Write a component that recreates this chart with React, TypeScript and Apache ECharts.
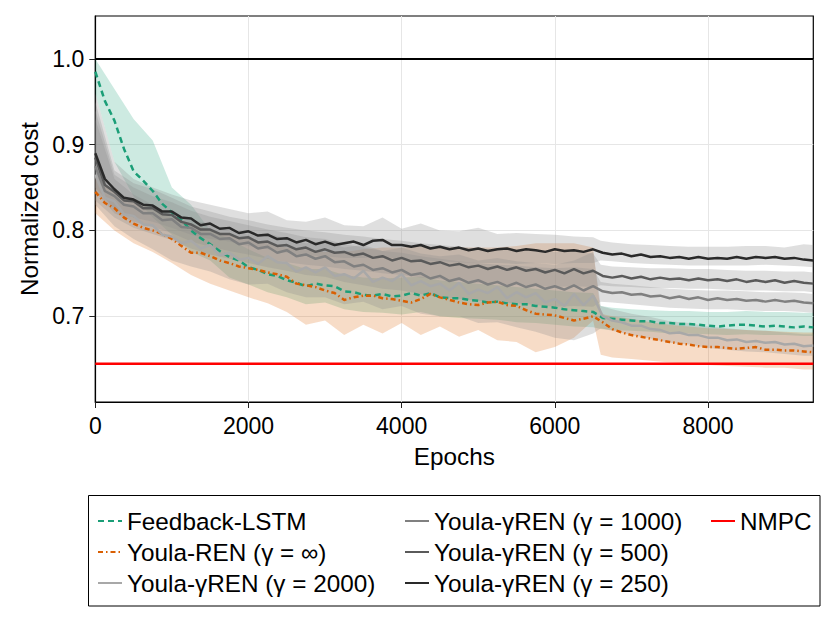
import React, { useEffect, useRef } from 'react';
import * as echarts from 'echarts';

const EPOCHS = [
  0, 125, 250, 375, 500, 625, 750, 875, 1000, 1125, 1250, 1375, 1500, 1625, 1750, 1875, 2000, 2125, 2250, 2375,
  2500, 2625, 2750, 2875, 3000, 3125, 3250, 3375, 3500, 3625, 3750, 3875, 4000, 4125, 4250, 4375, 4500, 4625, 4750, 4875,
  5000, 5125, 5250, 5375, 5500, 5625, 5750, 5875, 6000, 6125, 6250, 6375, 6500, 6625, 6750, 6875, 7000, 7125, 7250, 7375,
  7500, 7625, 7750, 7875, 8000, 8125, 8250, 8375, 8500, 8625, 8750, 8875, 9000, 9125, 9250, 9375,
];

const BAND_EPOCHS = [
  0, 250, 500, 750, 1000, 1250, 1500, 1750, 2000, 2250, 2500, 2750, 3000, 3250, 3500, 3750, 4000, 4250, 4500, 4750,
  5000, 5250, 5500, 5750, 6000, 6250, 6500, 6600, 6750, 7000, 7250, 7500, 7750, 8000, 8250, 8500, 8750, 9000, 9250, 9375,
];

const LSTM_MEAN = [
  0.985, 0.951, 0.928, 0.895, 0.869, 0.858, 0.846, 0.831, 0.821, 0.812,
  0.800, 0.791, 0.784, 0.776, 0.769, 0.765, 0.757, 0.754, 0.749, 0.747,
  0.742, 0.739, 0.735, 0.738, 0.736, 0.735, 0.729, 0.728, 0.725, 0.724,
  0.726, 0.723, 0.724, 0.727, 0.724, 0.727, 0.722, 0.721, 0.721, 0.719,
  0.718, 0.716, 0.717, 0.715, 0.714, 0.714, 0.712, 0.711, 0.710, 0.708,
  0.707, 0.706, 0.705, 0.698, 0.697, 0.696, 0.695, 0.694, 0.694, 0.692,
  0.692, 0.691, 0.691, 0.690, 0.689, 0.688, 0.689, 0.690, 0.690, 0.689,
  0.688, 0.689, 0.688, 0.687, 0.688, 0.687,
];
const LSTM_UP = [
  1.0, 0.965, 0.93, 0.905, 0.85, 0.83, 0.8, 0.79, 0.778, 0.768,
  0.762, 0.755, 0.755, 0.748, 0.745, 0.744, 0.745, 0.746, 0.742, 0.74,
  0.738, 0.736, 0.734, 0.732, 0.73, 0.728, 0.727, 0.712, 0.71, 0.708,
  0.707, 0.706, 0.706, 0.705, 0.705, 0.706, 0.705, 0.705, 0.704, 0.704,
];
const LSTM_LO = [
  0.96, 0.88, 0.84, 0.815, 0.795, 0.775, 0.765, 0.745, 0.737, 0.728,
  0.722, 0.714, 0.716, 0.708, 0.705, 0.704, 0.702, 0.705, 0.7, 0.698,
  0.697, 0.696, 0.693, 0.692, 0.69, 0.688, 0.687, 0.685, 0.684, 0.683,
  0.682, 0.68, 0.68, 0.679, 0.678, 0.679, 0.678, 0.678, 0.677, 0.677,
];

const REN_MEAN = [
  0.845, 0.832, 0.826, 0.815, 0.808, 0.803, 0.800, 0.796, 0.790, 0.782,
  0.774, 0.774, 0.770, 0.765, 0.762, 0.758, 0.756, 0.754, 0.751, 0.749,
  0.746, 0.738, 0.736, 0.734, 0.730, 0.727, 0.719, 0.722, 0.724, 0.724,
  0.721, 0.720, 0.718, 0.716, 0.720, 0.726, 0.722, 0.719, 0.716, 0.714,
  0.713, 0.716, 0.717, 0.713, 0.712, 0.707, 0.703, 0.702, 0.701, 0.698,
  0.695, 0.697, 0.700, 0.693, 0.685, 0.681, 0.678, 0.676, 0.674, 0.672,
  0.670, 0.668, 0.667, 0.665, 0.664, 0.664, 0.663, 0.662, 0.663, 0.664,
  0.661, 0.661, 0.660, 0.660, 0.659, 0.658,
];
const REN_UP = [
  0.865, 0.845, 0.835, 0.825, 0.815, 0.808, 0.8, 0.795, 0.79, 0.785,
  0.78, 0.778, 0.775, 0.775, 0.778, 0.78, 0.78, 0.782, 0.78, 0.78,
  0.78, 0.78, 0.782, 0.785, 0.785, 0.785, 0.78, 0.703, 0.7, 0.697,
  0.693, 0.69, 0.688, 0.686, 0.685, 0.684, 0.683, 0.682, 0.681, 0.681,
];
const REN_LO = [
  0.82, 0.8, 0.785, 0.775, 0.762, 0.748, 0.738, 0.73, 0.722, 0.715,
  0.705, 0.69, 0.695, 0.678, 0.69, 0.68, 0.692, 0.678, 0.688, 0.676,
  0.684, 0.672, 0.67, 0.658, 0.664, 0.675, 0.695, 0.655, 0.652, 0.65,
  0.648, 0.646, 0.645, 0.643, 0.642, 0.641, 0.64, 0.64, 0.638, 0.638,
];

const G2000_MEAN = [
  0.865, 0.838, 0.834, 0.819, 0.817, 0.807, 0.806, 0.795, 0.793, 0.785,
  0.788, 0.779, 0.783, 0.771, 0.774, 0.766, 0.768, 0.761, 0.770, 0.763,
  0.762, 0.752, 0.757, 0.751, 0.757, 0.747, 0.749, 0.744, 0.753, 0.740,
  0.745, 0.741, 0.749, 0.736, 0.741, 0.735, 0.738, 0.730, 0.739, 0.726,
  0.731, 0.727, 0.734, 0.721, 0.728, 0.722, 0.727, 0.716, 0.720, 0.712,
  0.726, 0.713, 0.724, 0.700, 0.695, 0.693, 0.689, 0.689, 0.685, 0.684,
  0.680, 0.681, 0.678, 0.678, 0.675, 0.675, 0.672, 0.673, 0.670, 0.671,
  0.669, 0.670, 0.667, 0.668, 0.665, 0.666,
];
const G2000_UP = [
  0.93, 0.86, 0.842, 0.83, 0.818, 0.812, 0.808, 0.8, 0.795, 0.797,
  0.79, 0.785, 0.786, 0.78, 0.783, 0.776, 0.78, 0.773, 0.77, 0.772,
  0.765, 0.768, 0.764, 0.762, 0.76, 0.765, 0.775, 0.712, 0.708, 0.703,
  0.699, 0.694, 0.692, 0.688, 0.686, 0.684, 0.683, 0.681, 0.679, 0.679,
];
const G2000_LO = [
  0.83, 0.805, 0.79, 0.778, 0.765, 0.758, 0.752, 0.743, 0.737, 0.738,
  0.728, 0.722, 0.722, 0.714, 0.717, 0.708, 0.712, 0.703, 0.7, 0.7,
  0.692, 0.693, 0.687, 0.682, 0.675, 0.672, 0.68, 0.686, 0.683, 0.678,
  0.674, 0.669, 0.667, 0.663, 0.661, 0.659, 0.658, 0.656, 0.654, 0.654,
];

const G1000_MEAN = [
  0.875, 0.846, 0.840, 0.830, 0.828, 0.820, 0.820, 0.812, 0.813, 0.804,
  0.803, 0.796, 0.796, 0.790, 0.791, 0.784, 0.786, 0.779, 0.781, 0.774,
  0.777, 0.770, 0.772, 0.767, 0.770, 0.763, 0.764, 0.758, 0.760, 0.754,
  0.756, 0.751, 0.754, 0.748, 0.750, 0.744, 0.747, 0.741, 0.744, 0.739,
  0.742, 0.737, 0.740, 0.735, 0.739, 0.734, 0.737, 0.732, 0.735, 0.731,
  0.736, 0.730, 0.735, 0.729, 0.727, 0.728, 0.725, 0.726, 0.723, 0.724,
  0.721, 0.723, 0.720, 0.722, 0.719, 0.721, 0.719, 0.720, 0.718, 0.719,
  0.717, 0.719, 0.717, 0.718, 0.716, 0.715,
];
const G1000_UP = [
  0.94, 0.865, 0.85, 0.84, 0.833, 0.823, 0.816, 0.811, 0.806, 0.801,
  0.797, 0.792, 0.79, 0.784, 0.78, 0.776, 0.774, 0.77, 0.767, 0.764,
  0.762, 0.76, 0.759, 0.757, 0.756, 0.757, 0.755, 0.74, 0.738, 0.736,
  0.734, 0.732, 0.731, 0.73, 0.73, 0.729, 0.728, 0.728, 0.727, 0.726,
];
const G1000_LO = [
  0.835, 0.815, 0.803, 0.796, 0.789, 0.779, 0.772, 0.767, 0.762, 0.757,
  0.753, 0.748, 0.746, 0.74, 0.736, 0.732, 0.73, 0.726, 0.723, 0.72,
  0.718, 0.716, 0.715, 0.713, 0.711, 0.712, 0.711, 0.717, 0.716, 0.714,
  0.712, 0.71, 0.709, 0.708, 0.708, 0.707, 0.706, 0.706, 0.705, 0.704,
];

const G500_MEAN = [
  0.885, 0.853, 0.845, 0.835, 0.834, 0.826, 0.826, 0.819, 0.818, 0.810,
  0.807, 0.801, 0.801, 0.796, 0.796, 0.791, 0.792, 0.786, 0.787, 0.782,
  0.783, 0.778, 0.780, 0.775, 0.778, 0.774, 0.775, 0.771, 0.773, 0.768,
  0.770, 0.765, 0.768, 0.764, 0.765, 0.761, 0.763, 0.759, 0.761, 0.757,
  0.759, 0.755, 0.758, 0.754, 0.757, 0.753, 0.755, 0.751, 0.754, 0.750,
  0.755, 0.750, 0.753, 0.747, 0.745, 0.747, 0.744, 0.746, 0.743, 0.745,
  0.743, 0.744, 0.742, 0.744, 0.742, 0.743, 0.741, 0.743, 0.740, 0.742,
  0.740, 0.742, 0.739, 0.741, 0.739, 0.738,
];
const G500_UP = [
  0.95, 0.87, 0.855, 0.848, 0.838, 0.828, 0.822, 0.816, 0.812, 0.807,
  0.803, 0.8, 0.798, 0.795, 0.793, 0.79, 0.788, 0.785, 0.783, 0.781,
  0.779, 0.778, 0.777, 0.776, 0.775, 0.776, 0.773, 0.76, 0.758, 0.757,
  0.756, 0.756, 0.755, 0.755, 0.754, 0.753, 0.753, 0.752, 0.752, 0.751,
];
const G500_LO = [
  0.845, 0.82, 0.81, 0.804, 0.797, 0.787, 0.781, 0.776, 0.772, 0.767,
  0.763, 0.76, 0.758, 0.755, 0.753, 0.75, 0.748, 0.745, 0.743, 0.741,
  0.739, 0.738, 0.737, 0.735, 0.734, 0.735, 0.734, 0.736, 0.735, 0.734,
  0.733, 0.733, 0.732, 0.732, 0.731, 0.73, 0.73, 0.729, 0.729, 0.728,
];

const G250_MEAN = [
  0.890, 0.860, 0.848, 0.838, 0.836, 0.830, 0.829, 0.822, 0.822, 0.815,
  0.814, 0.806, 0.808, 0.802, 0.803, 0.797, 0.799, 0.794, 0.795, 0.790,
  0.791, 0.786, 0.789, 0.784, 0.787, 0.783, 0.785, 0.787, 0.783, 0.788,
  0.789, 0.783, 0.783, 0.781, 0.783, 0.779, 0.781, 0.778, 0.780, 0.777,
  0.779, 0.776, 0.778, 0.779, 0.776, 0.778, 0.777, 0.775, 0.778, 0.776,
  0.777, 0.775, 0.778, 0.774, 0.772, 0.773, 0.770, 0.772, 0.769, 0.770,
  0.768, 0.769, 0.767, 0.769, 0.767, 0.768, 0.767, 0.769, 0.767, 0.769,
  0.768, 0.769, 0.767, 0.768, 0.766, 0.765,
];
const G250_UP = [
  0.96, 0.88, 0.86, 0.85, 0.842, 0.835, 0.83, 0.825, 0.82, 0.822,
  0.812, 0.81, 0.815, 0.806, 0.805, 0.815, 0.802, 0.808, 0.8, 0.799,
  0.803, 0.796, 0.797, 0.796, 0.795, 0.793, 0.792, 0.788, 0.786, 0.784,
  0.783, 0.782, 0.781, 0.781, 0.781, 0.782, 0.782, 0.78, 0.784, 0.783,
];
const G250_LO = [
  0.85, 0.825, 0.815, 0.81, 0.803, 0.795, 0.79, 0.787, 0.782, 0.778,
  0.774, 0.771, 0.77, 0.768, 0.768, 0.77, 0.766, 0.765, 0.764, 0.763,
  0.762, 0.762, 0.761, 0.762, 0.761, 0.762, 0.762, 0.765, 0.764, 0.762,
  0.761, 0.76, 0.759, 0.759, 0.759, 0.759, 0.76, 0.759, 0.758, 0.757,
];

const REFERENCE_LEVEL = [1.0, 1.0];
const NMPC_LEVEL = [0.6447, 0.6447];
const LEVEL_EPOCHS = [0, 9375];

const X_TICKS = [0, 2000, 4000, 6000, 8000];
const Y_TICKS = [0.7, 0.8, 0.9, 1.0];

const NAMES = {
  lstm: 'Feedback-LSTM',
  ren: 'Youla-REN (γ = ∞)',
  g2000: 'Youla-γREN (γ = 2000)',
  g1000: 'Youla-γREN (γ = 1000)',
  g500: 'Youla-γREN (γ = 500)',
  g250: 'Youla-γREN (γ = 250)',
  nmpc: 'NMPC',
};

const FONT = '"Liberation Sans", Arimo, Arial, Helvetica, sans-serif';
const TICK_SIZE = 23;
const TEXT_SIZE = 24.3;

function pairs(xs: number[], ys: number[]) {
  return xs.map((x, i) => [x, ys[i]]);
}

function bandSeries(id: string, up: number[], lo: number[], color: string) {
  return {
    type: 'custom',
    name: id,
    silent: true,
    z: 1,
    data: [[BAND_EPOCHS[0], lo[0]]],
    renderItem: (_params: any, api: any) => {
      const top = BAND_EPOCHS.map((x, i) => api.coord([x, up[i]]));
      const bottom = BAND_EPOCHS.map((x, i) => api.coord([x, lo[i]])).reverse();
      return {
        type: 'polygon',
        shape: { points: top.concat(bottom) },
        style: { fill: color, stroke: 'none' },
      };
    },
  };
}

function lineSeries(name: string, xs: number[], ys: number[], color: string, width: number, type: any) {
  return {
    type: 'line',
    name,
    data: pairs(xs, ys),
    symbol: 'none',
    silent: true,
    itemStyle: { color },
    lineStyle: { color, width, type, cap: 'butt' },
    z: 3,
  };
}

const GRAY_BAND = 'rgba(140,140,140,0.28)';

export default function App() {
  const ref = useRef<HTMLDivElement>(null);
  useEffect(() => {
    if (!ref.current) return;
    const chart = echarts.init(ref.current, undefined, { renderer: 'svg' });
    const legendCommon = {
      orient: 'vertical',
      padding: 0,
      itemWidth: 24,
      itemHeight: 14,
      itemGap: 7,
      selectedMode: false,
      itemStyle: { opacity: 0 },
      textStyle: { fontSize: TEXT_SIZE, fontFamily: FONT, color: '#000', lineHeight: 24 },
    };
    chart.setOption({
      animation: false,
      backgroundColor: '#fff',
      textStyle: { fontFamily: FONT },
      grid: {
        left: 95.3,
        right: 16.7,
        top: 16,
        bottom: 221,
        show: true,
        borderColor: '#000',
        borderWidth: 1.2,
        backgroundColor: 'transparent',
      },
      legend: [
        { ...legendCommon, left: 97, top: 509, data: [NAMES.lstm, NAMES.ren, NAMES.g2000] },
        { ...legendCommon, left: 404, top: 509, data: [NAMES.g1000, NAMES.g500, NAMES.g250] },
        { ...legendCommon, left: 710, top: 509, data: [NAMES.nmpc] },
      ],
      graphic: [
        {
          type: 'rect',
          shape: { x: 88.5, y: 495.5, width: 731.5, height: 110.5 },
          style: { fill: 'none', stroke: '#000', lineWidth: 1 },
          silent: true,
        },
      ],
      xAxis: {
        type: 'value',
        min: 0,
        max: 9375,
        interval: 2000,
        name: 'Epochs',
        nameLocation: 'middle',
        nameGap: 42,
        nameTextStyle: { fontSize: TEXT_SIZE, color: '#000', fontFamily: FONT },
        axisLine: { show: true, onZero: false, lineStyle: { color: '#000', width: 1.2 } },
        axisTick: { show: true, length: 6, customValues: X_TICKS, lineStyle: { color: '#222', width: 1 } },
        axisLabel: {
          fontSize: TICK_SIZE,
          color: '#000',
          fontFamily: FONT,
          margin: 12,
          customValues: X_TICKS,
          formatter: (v: number) => String(v),
        },
        splitLine: { show: true, lineStyle: { color: '#e6e6e6', width: 1 } },
      },
      yAxis: {
        type: 'value',
        min: 0.6,
        max: 1.05,
        interval: 0.1,
        name: 'Normalized cost',
        nameLocation: 'middle',
        nameGap: 52,
        nameTextStyle: { fontSize: TEXT_SIZE, color: '#000', fontFamily: FONT },
        axisLine: { show: true, onZero: false, lineStyle: { color: '#000', width: 1.2 } },
        axisTick: { show: true, length: 6, customValues: Y_TICKS, lineStyle: { color: '#222', width: 1 } },
        axisLabel: {
          fontSize: TICK_SIZE,
          color: '#000',
          fontFamily: FONT,
          margin: 11,
          customValues: Y_TICKS,
          formatter: (v: number) => v.toFixed(1),
        },
        splitLine: { show: true, lineStyle: { color: '#e6e6e6', width: 1 } },
      },
      series: [
        bandSeries('bandLstm', LSTM_UP, LSTM_LO, 'rgba(27,158,119,0.22)'),
        bandSeries('bandRen', REN_UP, REN_LO, 'rgba(217,95,2,0.22)'),
        bandSeries('band2000', G2000_UP, G2000_LO, GRAY_BAND),
        bandSeries('band1000', G1000_UP, G1000_LO, GRAY_BAND),
        bandSeries('band500', G500_UP, G500_LO, GRAY_BAND),
        bandSeries('band250', G250_UP, G250_LO, GRAY_BAND),
        lineSeries(NAMES.lstm, EPOCHS, LSTM_MEAN, '#1b9e77', 2.5, [6, 4]),
        lineSeries(NAMES.ren, EPOCHS, REN_MEAN, '#d95f02', 2.5, [5, 3, 1.5, 3]),
        lineSeries(NAMES.g2000, EPOCHS, G2000_MEAN, '#a8a8a8', 2.5, 'solid'),
        lineSeries(NAMES.g1000, EPOCHS, G1000_MEAN, '#808080', 2.5, 'solid'),
        lineSeries(NAMES.g500, EPOCHS, G500_MEAN, '#5a5a5a', 2.5, 'solid'),
        lineSeries(NAMES.g250, EPOCHS, G250_MEAN, '#2a2a2a', 2.5, 'solid'),
        lineSeries('reference', LEVEL_EPOCHS, REFERENCE_LEVEL, '#000000', 2, 'solid'),
        lineSeries(NAMES.nmpc, LEVEL_EPOCHS, NMPC_LEVEL, '#ff0000', 2.5, 'solid'),
      ],
    });
    return () => chart.dispose();
  }, []);
  return (
    <div
      ref={ref}
      style={{ position: 'fixed', left: 0, top: 0, width: 830, height: 623, background: '#fff' }}
    />
  );
}
